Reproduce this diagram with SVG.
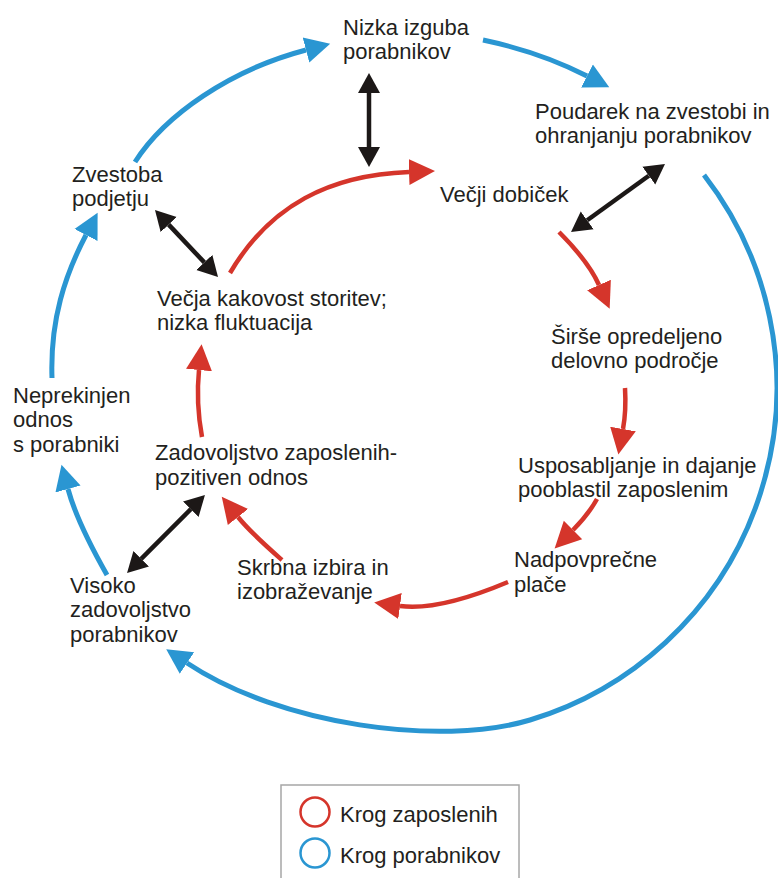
<svg xmlns="http://www.w3.org/2000/svg" width="778" height="878" viewBox="0 0 778 878">
  <style>
    text { font-family: "Liberation Sans", Arial, sans-serif; font-size: 22px; fill: #231f20; }
    .blue { fill: none; stroke: #2a96d2; stroke-width: 5; }
    .red { fill: none; stroke: #d5352b; stroke-width: 4.5; }
    .black { fill: none; stroke: #1c1817; stroke-width: 4.5; }
  </style>
  <defs>
    <marker id="headBlue" markerUnits="userSpaceOnUse" markerWidth="30" markerHeight="30" refX="0" refY="13" orient="auto" viewBox="0 0 30 26">
      <path d="M0,0 L25,13 L0,26 Z" fill="#2a96d2"/>
    </marker>
    <marker id="headRed" markerUnits="userSpaceOnUse" markerWidth="30" markerHeight="30" refX="0" refY="13" orient="auto" viewBox="0 0 30 26">
      <path d="M0,0 L26,13 L0,26 Z" fill="#d5352b"/>
    </marker>
    <marker id="headBlack" markerUnits="userSpaceOnUse" markerWidth="24" markerHeight="24" refX="0" refY="11" orient="auto-start-reverse" viewBox="0 0 24 22">
      <path d="M0,0 L20,11 L0,22 Z" fill="#1c1817"/>
    </marker>
  </defs>

  <!-- connectors -->
  <g id="connectors">
    <!-- customer loop (blue) -->
    <path class="blue" d="M52,378 C50,320 65,275 86,235" marker-end="url(#headBlue)"/>
    <path class="blue" d="M135,162 C165,115 230,70 306,50" marker-end="url(#headBlue)"/>
    <path class="blue" d="M483,40 Q540,52 587,76" marker-end="url(#headBlue)"/>
    <path class="blue" d="M704,175 A347,347 0 0 1 530,720 C440,747 280,725 187,663" marker-end="url(#headBlue)"/>
    <path class="blue" d="M107,575 C90,545 75,515 68,489" marker-end="url(#headBlue)"/>

    <!-- employee loop (red) -->
    <path class="red" d="M230,273 C270,205 330,175 409,172" marker-end="url(#headRed)"/>
    <path class="red" d="M559,232 C575,248 590,265 599,285" marker-end="url(#headRed)"/>
    <path class="red" d="M625,388 C626,405 625,418 623,429" marker-end="url(#headRed)"/>
    <path class="red" d="M597,499 Q588,515 573,530" marker-end="url(#headRed)"/>
    <path class="red" d="M508,582 C470,598 430,610 400,606" marker-end="url(#headRed)"/>
    <path class="red" d="M282,560 C265,545 250,532 238,517" marker-end="url(#headRed)"/>
    <path class="red" d="M202,437 C198,415 197,390 199,370" marker-end="url(#headRed)"/>

    <!-- links between the loops (black, two-headed) -->
    <path class="black" d="M369,93 L369,147" marker-start="url(#headBlack)" marker-end="url(#headBlack)"/>
    <path class="black" d="M648.8,175.7 L587.2,220.3" marker-start="url(#headBlack)" marker-end="url(#headBlack)"/>
    <path class="black" d="M168.7,224.6 L204.3,262.4" marker-start="url(#headBlack)" marker-end="url(#headBlack)"/>
    <path class="black" d="M190.8,509.2 L141.2,558.8" marker-start="url(#headBlack)" marker-end="url(#headBlack)"/>
  </g>

  <!-- nodes -->
  <g id="nizka-izguba">
    <text x="343" y="35">Nizka izguba</text>
    <text x="343" y="59">porabnikov</text>
  </g>
  <g id="poudarek">
    <text x="535" y="119">Poudarek na zvestobi in</text>
    <text x="535" y="143">ohranjanju porabnikov</text>
  </g>
  <g id="vecji-dobicek">
    <text x="440" y="202">Večji dobiček</text>
  </g>
  <g id="zvestoba">
    <text x="72" y="182">Zvestoba</text>
    <text x="72" y="206">podjetju</text>
  </g>
  <g id="vecja-kakovost">
    <text x="157" y="306">Večja kakovost storitev;</text>
    <text x="157" y="330">nizka fluktuacija</text>
  </g>
  <g id="sirse-podrocje">
    <text x="551" y="344">Širše opredeljeno</text>
    <text x="551" y="368">delovno področje</text>
  </g>
  <g id="neprekinjen-odnos">
    <text x="13" y="403">Neprekinjen</text>
    <text x="13" y="427">odnos</text>
    <text x="13" y="452">s porabniki</text>
  </g>
  <g id="zadovoljstvo-zaposlenih">
    <text x="155" y="460">Zadovoljstvo zaposlenih-</text>
    <text x="155" y="485">pozitiven odnos</text>
  </g>
  <g id="usposabljanje">
    <text x="518" y="473">Usposabljanje in dajanje</text>
    <text x="518" y="497">pooblastil zaposlenim</text>
  </g>
  <g id="nadpovprecne-place">
    <text x="514" y="567">Nadpovprečne</text>
    <text x="514" y="592">plače</text>
  </g>
  <g id="skrbna-izbira">
    <text x="237" y="575">Skrbna izbira in</text>
    <text x="237" y="599">izobraževanje</text>
  </g>
  <g id="visoko-zadovoljstvo">
    <text x="70" y="593">Visoko</text>
    <text x="70" y="617">zadovoljstvo</text>
    <text x="70" y="642">porabnikov</text>
  </g>

  <!-- legend -->
  <g id="legend">
    <rect x="281" y="785" width="238" height="100" fill="#ffffff" stroke="#a7a7a7" stroke-width="1.5"/>
    <circle cx="315" cy="812" r="14.5" fill="none" stroke="#d5352b" stroke-width="2.5"/>
    <text x="340" y="822">Krog zaposlenih</text>
    <circle cx="315" cy="853" r="14.5" fill="none" stroke="#2a96d2" stroke-width="2.5"/>
    <text x="340" y="863">Krog porabnikov</text>
  </g>
</svg>
